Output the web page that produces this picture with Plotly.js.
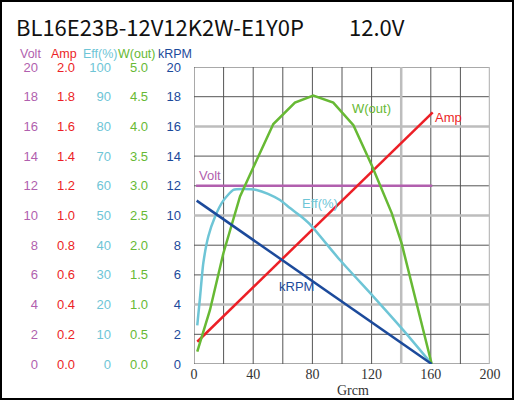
<!DOCTYPE html>
<html>
<head>
<meta charset="utf-8">
<script src="https://cdn.plot.ly/plotly-3.0.1.min.js"></script>
<style>
  html, body { margin: 0; padding: 0; background: #fff; }
  #chart { position: absolute; left: 0; top: 0; width: 516px; height: 400px; }
  #frame { position: absolute; left: 0; top: 0; width: 514px; height: 400px; box-sizing: border-box; border: 2px solid #000; pointer-events: none; }
</style>
</head>
<body>
<div id="chart"></div>
<div id="frame"></div>
<script>
// ---- data (torque in gcm) ----
const voltX = [1.4, 161];
const voltY = [12, 12];

const ampX = [2.2, 161.3];
const ampY = [0.15, 1.695];

const rpmX = [1.8, 160.6];
const rpmY = [11.0, 0];

const effX = [2.2, 4.1, 6.3, 9.7, 14.2, 19.8, 26.6, 33.3, 42.3, 50, 58.1, 64.9, 71.6, 78.4, 98.6, 121.2, 141.4, 160.6];
const effY = [13, 22.6, 34, 43, 49.6, 55, 58.6, 58.9, 58.6, 57.3, 55.2, 52.5, 50, 47, 35, 22.7, 11.4, 0];

const wX = [2.2, 10.8, 19.8, 31.1, 42.3, 53.6, 68.2, 80.6, 94.1, 107.7, 120, 133.6, 140.3, 150.5, 160.6];
const wY = [0.21, 0.91, 1.86, 2.82, 3.43, 4.04, 4.40, 4.52, 4.40, 4.02, 3.35, 2.54, 2.03, 1.02, 0];

// ---- ticks ----
const xTickVals = [0, 40, 80, 120, 160, 200];
const voltTicks = [0, 2, 4, 6, 8, 10, 12, 14, 16, 18, 20];
const ampTicks = [0, 0.2, 0.4, 0.6, 0.8, 1.0, 1.2, 1.4, 1.6, 1.8, 2.0];
const effTicks = [0, 10, 20, 30, 40, 50, 60, 70, 80, 90, 100];
const wTicks = [0, 0.5, 1.0, 1.5, 2.0, 2.5, 3.0, 3.5, 4.0, 4.5, 5.0];
const rpmTicks = [0, 2, 4, 6, 8, 10, 12, 14, 16, 18, 20];

// grid lines
const gridXDark = [0, 20, 40, 60, 80, 100, 120, 160, 180];
const gridXLight = [140, 200];
const gridYDark = [0, 2, 6, 8, 12, 14, 18, 20];
const gridYLight = [4, 10, 16];

const C = {
  volt: '#b15fae', amp: '#ec1f26', eff: '#6ec5d6', w: '#67b934', rpm: '#1c4a9b'
};

const W = 516, H = 400, ML = 0, MR = 26, MT = 67, MB = 36;
const PW = W - ML - MR, PH = H - MT - MB;
const px = v => (v - ML) / PW;          // pixel x -> paper
const py = v => (H - MB - v) / PH;      // pixel y -> paper

const traces = [
  {x: voltX, y: voltY, yaxis: 'y', mode: 'lines', line: {color: C.volt, width: 2.5}},
  {x: effX, y: effY, yaxis: 'y3', mode: 'lines', line: {color: C.eff, width: 2.5, shape: 'spline', smoothing: 0.6}},
  {x: rpmX, y: rpmY, yaxis: 'y5', mode: 'lines', line: {color: C.rpm, width: 2.5}},
  {x: wX, y: wY, yaxis: 'y4', mode: 'lines', line: {color: C.w, width: 2.5}},
  {x: ampX, y: ampY, yaxis: 'y2', mode: 'lines', line: {color: C.amp, width: 2.5}}
];

const tickFont = c => ({family: 'Liberation Sans, Arial, sans-serif', size: 13, color: c});
const headFont = c => ({family: 'Liberation Sans, Arial, sans-serif', size: 12.5, color: c});
function yax(range, ticks, color, pos, fmt, extra) {
  return Object.assign({
    range: range, tickvals: ticks, tickformat: fmt || '', anchor: 'free', position: pos,
    showgrid: false, zeroline: false, showline: false, ticks: '',
    ticklabelshift: -2.5,
    tickfont: tickFont(color), fixedrange: true
  }, extra || {});
}

const shapes = [];
gridXDark.forEach(v => shapes.push({type: 'line', xref: 'x', yref: 'y', x0: v, x1: v, y0: 0, y1: 20, layer: 'below', line: {color: '#555', width: 1}}));
gridYDark.forEach(v => shapes.push({type: 'line', xref: 'x', yref: 'y', x0: 0, x1: 200, y0: v, y1: v, layer: 'below', line: {color: '#555', width: 1}}));
gridXLight.forEach(v => shapes.push({type: 'line', xref: 'x', yref: 'y', x0: v, x1: v, y0: 0, y1: 20, layer: 'below', line: {color: '#bdbdbd', width: 2.5}}));
gridYLight.forEach(v => shapes.push({type: 'line', xref: 'x', yref: 'y', x0: 0, x1: 200, y0: v, y1: v, layer: 'below', line: {color: '#bdbdbd', width: 2.5}}));

const headerY = py(54);
const titleFont = {family: 'Noto Sans CJK JP, Noto Sans, sans-serif', size: 22, color: '#111'};
const head = (t, x, c) => ({text: t, xref: 'paper', yref: 'paper', x: px(x), y: headerY, xanchor: 'center', yanchor: 'middle', borderpad: 0, showarrow: false, font: headFont(c)});
const annotations = [
  {text: 'BL16E23B-12V12K2W-E1Y0P', xref: 'paper', yref: 'paper', x: px(14), y: py(26), xanchor: 'left', yanchor: 'middle', showarrow: false, font: titleFont},
  {text: '12.0V', xref: 'paper', yref: 'paper', x: px(347), y: py(26), xanchor: 'left', yanchor: 'middle', showarrow: false, font: titleFont},
  head('Volt', 31, C.volt),
  head('Amp', 64, C.amp),
  head('Eff(%)', 100, C.eff),
  head('W(out)', 136.5, C.w),
  head('kRPM', 174.5, C.rpm),
  // curve labels
  {text: 'W(out)', xref: 'x', yref: 'y', x: 105.4, y: 17.2, xanchor: 'left', yanchor: 'middle', showarrow: false, font: tickFont(C.w)},
  {text: 'Amp', xref: 'x', yref: 'y', x: 161.5, y: 16.6, xanchor: 'left', yanchor: 'middle', showarrow: false, font: tickFont(C.amp)},
  {text: 'Volt', xref: 'x', yref: 'y', x: 2.0, y: 12.7, xanchor: 'left', yanchor: 'middle', showarrow: false, font: tickFont(C.volt)},
  {text: 'Eff(%)', xref: 'x', yref: 'y', x: 71.6, y: 10.8, xanchor: 'left', yanchor: 'middle', showarrow: false, font: tickFont(C.eff)},
  {text: 'kRPM', xref: 'x', yref: 'y', x: 56, y: 5.2, xanchor: 'left', yanchor: 'middle', showarrow: false, font: tickFont(C.rpm)},
  {text: 'Grcm', xref: 'x', yref: 'paper', x: 107.5, y: py(390), xanchor: 'center', yanchor: 'middle', showarrow: false, font: {family: 'Liberation Serif, Times New Roman, serif', size: 14, color: '#333'}}
];

const layout = {
  width: W, height: H,
  margin: {l: ML, r: MR, t: MT, b: MB, pad: 0},
  paper_bgcolor: '#fff', plot_bgcolor: '#fff',
  showlegend: false,
  xaxis: {
    domain: [px(194), 1], range: [0, 200], tickvals: xTickVals,
    showgrid: false, zeroline: false, showline: false, ticks: '',
    tickfont: {family: 'Liberation Serif, Times New Roman, serif', size: 14, color: '#333'},
    fixedrange: true
  },
  yaxis: yax([0, 20], voltTicks, C.volt, px(38)),
  yaxis2: yax([0, 2], ampTicks, C.amp, px(75), '.1f', {overlaying: 'y'}),
  yaxis3: yax([0, 100], effTicks, C.eff, px(111), '', {overlaying: 'y'}),
  yaxis4: yax([0, 5], wTicks, C.w, px(148), '.1f', {overlaying: 'y'}),
  yaxis5: yax([0, 20], rpmTicks, C.rpm, px(181), '', {overlaying: 'y'}),
  shapes: shapes,
  annotations: annotations
};

Plotly.newPlot('chart', traces, layout, {displayModeBar: false, staticPlot: true});
</script>
</body>
</html>
